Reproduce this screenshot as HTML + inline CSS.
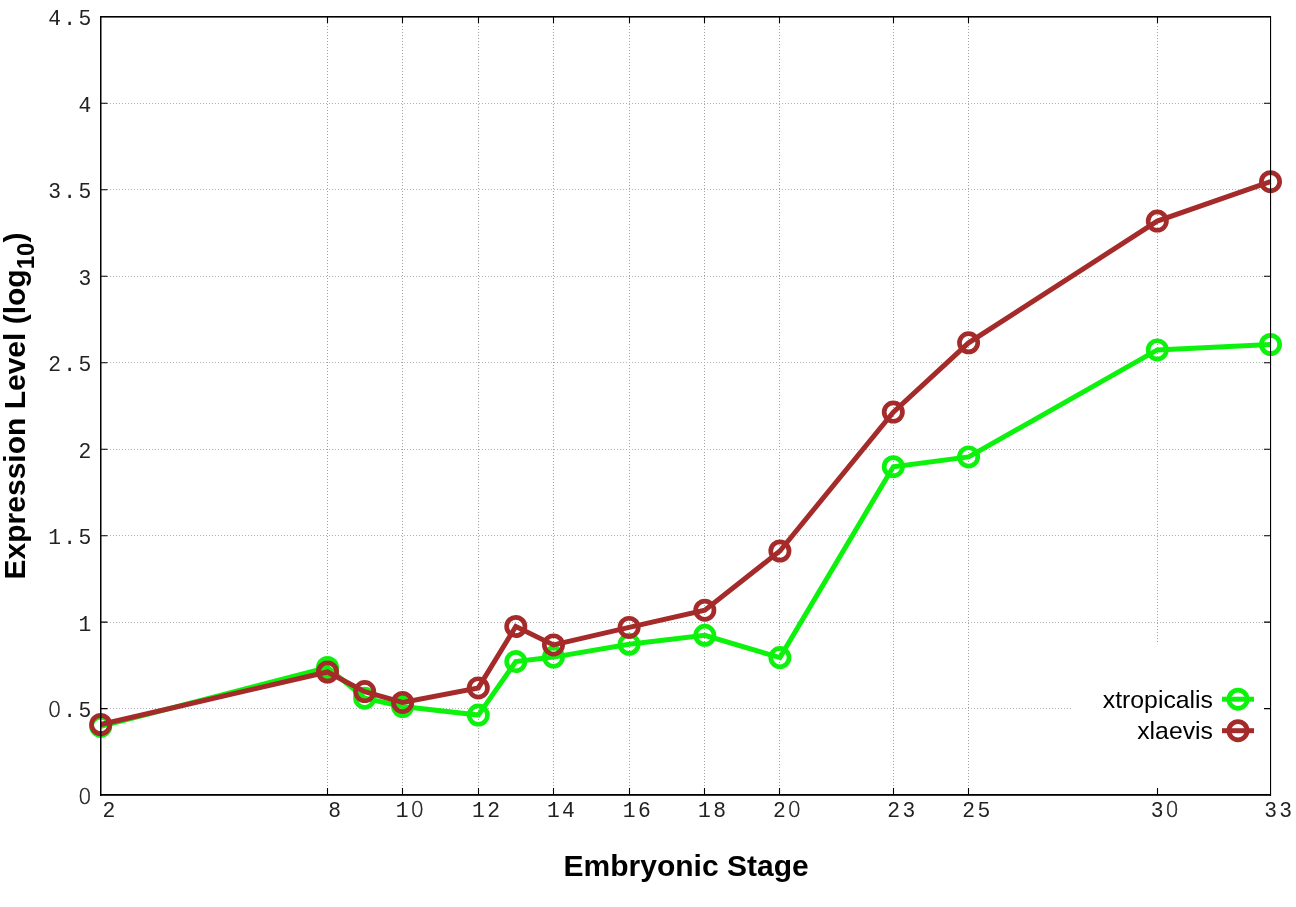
<!DOCTYPE html><html><head><meta charset="utf-8"><title>Expression Level</title><style>html,body{margin:0;padding:0;background:#fff;overflow:hidden;}svg{display:block;}</style></head><body>
<svg width="1296" height="907" viewBox="0 0 1296 907">
<rect width="1296" height="907" fill="#fff"/>
<path d="M327.5 20V794M402.5 20V794M478.5 20V794M553.5 20V794M629.5 20V794M704.5 20V794M779.5 20V794M893.5 20V794M968.5 20V794M1157.5 20V794" stroke="#a0a0a0" stroke-width="1" stroke-dasharray="1 2" fill="none"/>
<path d="M104 708.5H1270M104 622.5H1270M104 535.5H1270M104 449.5H1270M104 362.5H1270M104 276.5H1270M104 189.5H1270M104 103.5H1270" stroke="#b0b0b0" stroke-width="1" stroke-dasharray="1 2" fill="none"/>
<rect x="1071" y="642" width="200" height="153" fill="#fff"/>
<path d="M327.5 794v-6M327.5 17v6M402.5 794v-6M402.5 17v6M478.5 794v-6M478.5 17v6M553.5 794v-6M553.5 17v6M629.5 794v-6M629.5 17v6M704.5 794v-6M704.5 17v6M779.5 794v-6M779.5 17v6M893.5 794v-6M893.5 17v6M968.5 794v-6M968.5 17v6M1157.5 794v-6M1157.5 17v6M101 708.62h6.5M1270 708.62h-6M101 622.15h6.5M1270 622.15h-6M101 535.68h6.5M1270 535.68h-6M101 449.20h6.5M1270 449.20h-6M101 362.73h6.5M1270 362.73h-6M101 276.25h6.5M1270 276.25h-6M101 189.78h6.5M1270 189.78h-6M101 103.30h6.5M1270 103.30h-6" stroke="#000" stroke-width="1.1" fill="none"/>
<polyline points="100.7,726.4 327.5,667.5 364.7,698.2 402.6,706.5 478.3,715.1 515.8,661.6 553.5,657.1 629.1,644.3 704.8,635.3 779.9,657.6 893.3,466.7 968.6,456.9 1157.3,349.9 1270.5,344.5" fill="none" stroke="#0df20d" stroke-width="5.0" stroke-linejoin="miter" stroke-miterlimit="10"/><g fill="none" stroke="#0df20d" stroke-width="4.7"><circle cx="100.7" cy="726.4" r="9.15"/><circle cx="327.5" cy="667.5" r="9.15"/><circle cx="364.7" cy="698.2" r="9.15"/><circle cx="402.6" cy="706.5" r="9.15"/><circle cx="478.3" cy="715.1" r="9.15"/><circle cx="515.8" cy="661.6" r="9.15"/><circle cx="553.5" cy="657.1" r="9.15"/><circle cx="629.1" cy="644.3" r="9.15"/><circle cx="704.8" cy="635.3" r="9.15"/><circle cx="779.9" cy="657.6" r="9.15"/><circle cx="893.3" cy="466.7" r="9.15"/><circle cx="968.6" cy="456.9" r="9.15"/><circle cx="1157.3" cy="349.9" r="9.15"/><circle cx="1270.5" cy="344.5" r="9.15"/></g>
<polyline points="100.7,724.5 327.5,672.0 364.7,691.6 402.6,702.4 478.3,687.9 515.8,626.5 553.5,644.9 629.1,627.4 704.8,610.2 779.9,551.0 893.3,412.1 968.6,342.8 1157.3,221.1 1270.5,181.7" fill="none" stroke="#a52a2a" stroke-width="5.0" stroke-linejoin="miter" stroke-miterlimit="10"/><g fill="none" stroke="#a52a2a" stroke-width="4.7"><circle cx="100.7" cy="724.5" r="9.15"/><circle cx="327.5" cy="672.0" r="9.15"/><circle cx="364.7" cy="691.6" r="9.15"/><circle cx="402.6" cy="702.4" r="9.15"/><circle cx="478.3" cy="687.9" r="9.15"/><circle cx="515.8" cy="626.5" r="9.15"/><circle cx="553.5" cy="644.9" r="9.15"/><circle cx="629.1" cy="627.4" r="9.15"/><circle cx="704.8" cy="610.2" r="9.15"/><circle cx="779.9" cy="551.0" r="9.15"/><circle cx="893.3" cy="412.1" r="9.15"/><circle cx="968.6" cy="342.8" r="9.15"/><circle cx="1157.3" cy="221.1" r="9.15"/><circle cx="1270.5" cy="181.7" r="9.15"/></g>
<path d="M1222 699.2H1254" stroke="#0df20d" stroke-width="5.0"/><circle cx="1238" cy="699.2" r="9.15" fill="none" stroke="#0df20d" stroke-width="4.7"/>
<path d="M1222 730.7H1254" stroke="#a52a2a" stroke-width="5.0"/><circle cx="1238" cy="730.7" r="9.15" fill="none" stroke="#a52a2a" stroke-width="4.7"/>
<g font-family="Liberation Sans, Arial, sans-serif" font-size="24.8" text-anchor="end" fill="#000"><text x="1213" y="707.6">xtropicalis</text><text x="1213" y="739">xlaevis</text></g>
<g fill="#000"><rect x="100" y="16" width="1171" height="1.6"/><rect x="100" y="16" width="1.5" height="780"/><rect x="1270" y="16" width="1.1" height="780"/><rect x="100" y="794" width="1171" height="1.8"/></g>
<g font-family="Liberation Mono, Courier New, monospace" font-size="21.3" text-anchor="middle" fill="#222">
<text y="803.60"><tspan x="84.80" font-family="DejaVu Sans, Liberation Sans, sans-serif" font-weight="200" font-size="21.5" stroke="#222" stroke-width="0.45">0</tspan></text>
<text y="717.12"><tspan x="54.60" font-family="DejaVu Sans, Liberation Sans, sans-serif" font-weight="200" font-size="21.5" stroke="#222" stroke-width="0.45">0</tspan><tspan x="69.70">.</tspan><tspan x="84.80">5</tspan></text>
<text y="630.65"><tspan x="84.80">1</tspan></text>
<text y="544.18"><tspan x="54.60">1</tspan><tspan x="69.70">.</tspan><tspan x="84.80">5</tspan></text>
<text y="457.70"><tspan x="84.80">2</tspan></text>
<text y="371.23"><tspan x="54.60">2</tspan><tspan x="69.70">.</tspan><tspan x="84.80">5</tspan></text>
<text y="284.75"><tspan x="84.80">3</tspan></text>
<text y="198.28"><tspan x="54.60">3</tspan><tspan x="69.70">.</tspan><tspan x="84.80">5</tspan></text>
<text y="111.80"><tspan x="84.80">4</tspan></text>
<text y="25.33"><tspan x="54.60">4</tspan><tspan x="69.70">.</tspan><tspan x="84.80">5</tspan></text>
<text y="817.00"><tspan x="108.90">2</tspan></text>
<text y="817.00"><tspan x="334.60">8</tspan></text>
<text y="817.00"><tspan x="402.25">1</tspan><tspan x="417.35" font-family="DejaVu Sans, Liberation Sans, sans-serif" font-weight="200" font-size="21.5" stroke="#222" stroke-width="0.45">0</tspan></text>
<text y="817.00"><tspan x="478.50">1</tspan><tspan x="493.60">2</tspan></text>
<text y="817.00"><tspan x="553.30">1</tspan><tspan x="568.40">4</tspan></text>
<text y="817.00"><tspan x="629.25">1</tspan><tspan x="644.35">6</tspan></text>
<text y="817.00"><tspan x="704.45">1</tspan><tspan x="719.55">8</tspan></text>
<text y="817.00"><tspan x="779.30">2</tspan><tspan x="794.40" font-family="DejaVu Sans, Liberation Sans, sans-serif" font-weight="200" font-size="21.5" stroke="#222" stroke-width="0.45">0</tspan></text>
<text y="817.00"><tspan x="893.75">2</tspan><tspan x="908.85">3</tspan></text>
<text y="817.00"><tspan x="968.75">2</tspan><tspan x="983.85">5</tspan></text>
<text y="817.00"><tspan x="1157.10">3</tspan><tspan x="1172.20" font-family="DejaVu Sans, Liberation Sans, sans-serif" font-weight="200" font-size="21.5" stroke="#222" stroke-width="0.45">0</tspan></text>
<text y="817.00"><tspan x="1270.55">3</tspan><tspan x="1285.65">3</tspan></text>
</g>
<text transform="translate(563.6,875.5)" font-family="Liberation Sans, Arial, sans-serif" font-weight="bold" font-size="30" fill="#000">Embryonic Stage</text>
<text transform="translate(25,579.4) rotate(-90)" font-family="Liberation Sans, Arial, sans-serif" font-weight="bold" font-size="30" fill="#000">Expression Level (log<tspan font-size="24" dy="9">10</tspan><tspan dy="-9">)</tspan></text>
</svg></body></html>
